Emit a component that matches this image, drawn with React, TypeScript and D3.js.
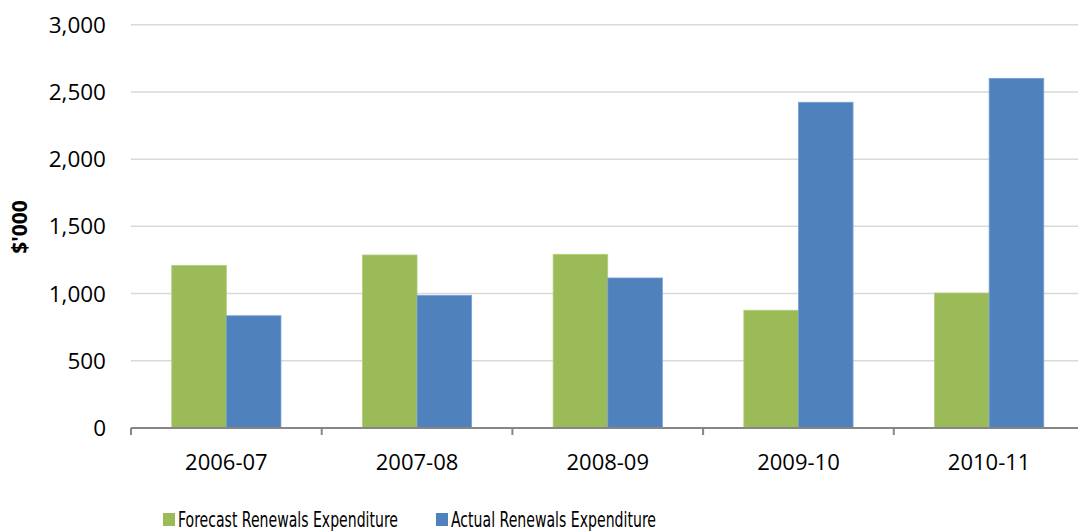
import { useEffect } from "react";
import * as d3 from "d3";

const categories = ["2006-07", "2007-08", "2008-09", "2009-10", "2010-11"];
const seriesNames = ["Forecast Renewals Expenditure", "Actual Renewals Expenditure"];
const forecast = [1210, 1287, 1292, 876, 1004];
const actual = [835, 987, 1116, 2423, 2601];
const yTicks = [0, 500, 1000, 1500, 2000, 2500, 3000];
const colors = ["#9bbb59", "#4f81bd"];
const strokes = ["#b3cf7e", "#7aa1d2"];

const W = 1078;
const H = 531;
const FONT = "'Open Sans', 'Noto Sans', sans-serif";
const NARROW = "'Liberation Sans Narrow', 'DejaVu Sans Condensed', sans-serif";

export default function App() {
  useEffect(() => {
    document.body.style.margin = "0";
  }, []);

  const left = 131;
  const right = 1084.5;
  const y = d3.scaleLinear().domain([0, 3000]).range([428, 24.7]);
  const x0 = d3.scaleBand<string>().domain(categories).range([left, right]).padding(0);
  const x1 = d3
    .scaleBand<number>()
    .domain([0, 1])
    .range([0, x0.bandwidth()])
    .paddingInner(0)
    .paddingOuter(0.746);
  const fmt = d3.format(",");
  const series = [forecast, actual];

  return (
    <svg width={W} height={H} style={{ position: "absolute", left: 0, top: 0, background: "#fff" }}>
      {/* gridlines */}
      {yTicks.slice(1).map((t) => (
        <line key={t} x1={left} x2={W} y1={y(t)} y2={y(t)} stroke="#d9d9d9" strokeWidth={1.5} />
      ))}
      {/* y labels */}
      {yTicks.map((t) => (
        <text
          key={t}
          x={106}
          y={y(t) + 8}
          textAnchor="end"
          fontFamily={FONT}
          fontSize={22.5}
          fill="#000"
        >
          {fmt(t)}
        </text>
      ))}
      <text
        transform={`translate(27,227) rotate(-90)`}
        textAnchor="middle"
        fontFamily={FONT}
        fontSize={21}
        fontWeight="bold"
        fill="#000"
      >
        $'000
      </text>
      {/* bars */}
      {series.map((vals, si) =>
        vals.map((v, i) => (
          <rect
            key={`${si}-${i}`}
            x={(x0(categories[i]) ?? 0) + (x1(si) ?? 0)}
            y={y(v)}
            width={x1.bandwidth()}
            height={y(0) - y(v)}
            fill={colors[si]}
            stroke={strokes[si]}
            strokeWidth={0.8}
          />
        ))
      )}
      {/* x axis */}
      <line x1={left} x2={W} y1={y(0)} y2={y(0)} stroke="#868686" strokeWidth={2} />
      {categories.map((c, i) => (
        <line
          key={`tk-${c}`}
          x1={left + i * x0.step()}
          x2={left + i * x0.step()}
          y1={y(0)}
          y2={y(0) + 7}
          stroke="#868686"
          strokeWidth={2}
        />
      ))}
      {categories.map((c) => (
        <text
          key={c}
          x={(x0(c) ?? 0) + x0.bandwidth() / 2}
          y={470}
          textAnchor="middle"
          fontFamily={FONT}
          fontSize={22}
          fill="#000"
        >
          {c}
        </text>
      ))}
      {/* legend */}
      {seriesNames.map((name, si) => {
        const lx = [163, 436][si];
        const tw = [220, 205][si];
        return (
          <g key={name}>
            <rect x={lx} y={513} width={12} height={13} fill={colors[si]} />
            <text
              x={lx + 15}
              y={527}
              fontFamily={NARROW}
              fontSize={21}
              textLength={tw}
              lengthAdjust="spacingAndGlyphs"
              fill="#000"
            >
              {name}
            </text>
          </g>
        );
      })}
    </svg>
  );
}
